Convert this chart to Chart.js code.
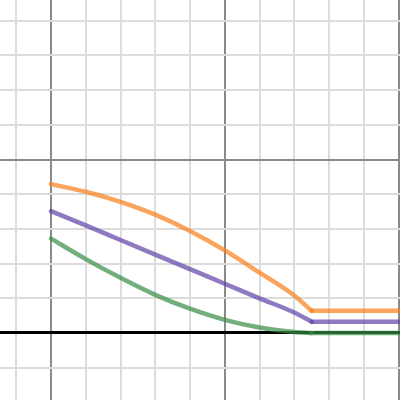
<!DOCTYPE html>
<html>
<head>
<meta charset="utf-8">
<script src="https://cdn.jsdelivr.net/npm/chart.js@4/dist/chart.umd.min.js"></script>
<style>
  html, body { margin: 0; padding: 0; background: #fff; }
  #wrap { width: 400px; height: 400px; }
</style>
</head>
<body>
<div id="wrap"><canvas id="graph" width="400" height="400"></canvas></div>
<script>
// values (x in grid units)
const curveX = [5, 6, 7, 8, 9, 10, 11, 12, 12.5]
const orangeY = [4.29, 4.07, 3.78, 3.41, 2.94, 2.38, 1.74, 1.08, 0.64]
const purpleY = [3.51, 3.10, 2.68, 2.26, 1.84, 1.42, 1.0, 0.59, 0.325]
const greenY = [2.72, 2.13, 1.59, 1.10, 0.70, 0.38, 0.16, 0.03, 0]

// flat tails after the kink
const tailX = [12.5, 15.2]
const orangeTail = [0.64, 0.64]
const purpleTail = [0.325, 0.325]
const greenTail = [0, 0]

const ORANGE = 'rgba(250, 126, 25, 0.7)'
const PURPLE = 'rgba(96, 66, 166, 0.7)'
const GREEN = 'rgba(56, 140, 70, 0.7)'

const toPoints = (xs, ys) => xs.map((x, i) => ({ x: x, y: ys[i] }))

function lineSet(xs, ys, color, smooth) {
  return {
    data: toPoints(xs, ys),
    borderColor: color,
    borderWidth: 4.5,
    borderCapStyle: 'round',
    borderJoinStyle: 'round',
    pointRadius: 0,
    fill: false,
    cubicInterpolationMode: smooth ? 'monotone' : 'default',
    tension: 0,
  }
}

// integer ticks only, so the grid lands on whole units
function intTicks(scale) {
  const ticks = []
  for (let v = Math.ceil(scale.min); v <= Math.floor(scale.max); v++) {
    ticks.push({ value: v })
  }
  scale.ticks = ticks
}

function gridColor(ctx) {
  const v = ctx.tick.value
  if (v === 0) return '#000'
  if (v % 5 === 0) return '#8a8a8a'
  return '#dcdcdc'
}

function gridWidth(ctx) {
  const v = ctx.tick.value
  if (v === 0) return 3
  return 2
}

const gridOpts = {
  color: gridColor,
  lineWidth: gridWidth,
  drawTicks: false,
}

new Chart(document.getElementById('graph'), {
  type: 'line',
  data: {
    datasets: [
      lineSet(curveX, greenY, GREEN, true),
      lineSet(tailX, greenTail, GREEN, false),
      lineSet(curveX, purpleY, PURPLE, true),
      lineSet(tailX, purpleTail, PURPLE, false),
      lineSet(curveX, orangeY, ORANGE, true),
      lineSet(tailX, orangeTail, ORANGE, false),
    ],
  },
  options: {
    responsive: false,
    animation: false,
    layout: { padding: 0 },
    plugins: {
      legend: { display: false },
      tooltip: { enabled: false },
    },
    scales: {
      x: {
        type: 'linear',
        min: 3.532,
        max: 15.043,
        afterBuildTicks: intTicks,
        ticks: { display: false },
        grid: gridOpts,
        border: { display: false },
      },
      y: {
        type: 'linear',
        min: -1.931,
        max: 9.597,
        afterBuildTicks: intTicks,
        ticks: { display: false },
        grid: gridOpts,
        border: { display: false },
      },
    },
  },
})
</script>
</body>
</html>
